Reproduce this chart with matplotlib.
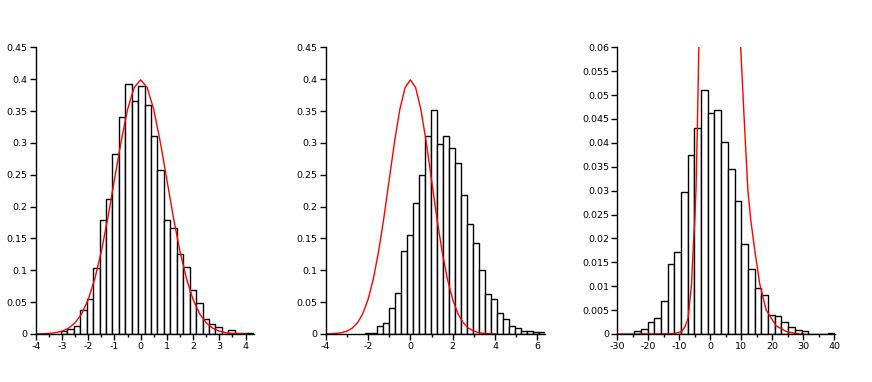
import numpy as np
import matplotlib
matplotlib.use('Agg')
import matplotlib.pyplot as plt
from matplotlib.ticker import MultipleLocator, FormatStrFormatter

# panel 1: histogram (30 bins)
h1_start, h1_width = -3.04, 0.2455
h1 = [0.005, 0.008, 0.013, 0.037, 0.055, 0.104, 0.179, 0.212, 0.282, 0.340,
      0.393, 0.366, 0.389, 0.360, 0.311, 0.257, 0.179, 0.167, 0.126, 0.105,
      0.069, 0.049, 0.024, 0.016, 0.011, 0.0, 0.006, 0.002, 0.002, 0.002]

# panel 2
h2_start, h2_width = -2.14, 0.283
h2 = [0.002, 0.0015, 0.012, 0.018, 0.040, 0.065, 0.130, 0.155, 0.206, 0.250,
      0.310, 0.352, 0.298, 0.311, 0.292, 0.269, 0.218, 0.173, 0.143, 0.100,
      0.063, 0.055, 0.033, 0.024, 0.012, 0.010, 0.005, 0.005, 0.003, 0.003]

# panel 3
h3_start, h3_width = -24.6, 2.16
h3 = [0.0006, 0.001, 0.0025, 0.0034, 0.0068, 0.0147, 0.0172, 0.0298, 0.0374, 0.0431,
      0.0511, 0.0462, 0.0468, 0.0401, 0.0346, 0.0279, 0.0188, 0.0135, 0.0096, 0.0082,
      0.0039, 0.0037, 0.0025, 0.0014, 0.0008, 0.0006, 0.0, 0.0, 0.0, 0.0003]

# red curve of panels 1 and 2
curve_x = [-4, -3.75, -3.5, -3.25, -3, -2.75, -2.5, -2.25, -2, -1.75, -1.5, -1.25,
           -1, -0.75, -0.5, -0.25, 0, 0.25, 0.5, 0.75, 1, 1.25, 1.5, 1.75, 2,
           2.25, 2.5, 2.75, 3, 3.25, 3.5, 3.75, 4]
curve_y = [0.0001, 0.0004, 0.0009, 0.002, 0.0044, 0.0091, 0.0175, 0.0317, 0.054,
           0.0863, 0.1295, 0.1826, 0.242, 0.3011, 0.3521, 0.3867, 0.3989, 0.3867,
           0.3521, 0.3011, 0.242, 0.1826, 0.1295, 0.0863, 0.054, 0.0317, 0.0175,
           0.0091, 0.0044, 0.002, 0.0009, 0.0004, 0.0001]

# red curve of panel 3 (two branches leaving the top of the plot)
c3_left_x = [-30, -15, -11.5, -9.3, -8.2, -7.2, -6.1, -5.6, -5.0, -4.6, -4.15, -3.73]
c3_left_y = [0.0, 0.0, 0.0001, 0.0005, 0.0015, 0.0033, 0.0103, 0.0172, 0.0242,
             0.031, 0.045, 0.06]
c3_right_x = [9.77, 10.9, 12.1, 13.0, 14.3, 15.9, 18.0, 21.2, 24.5, 28.8, 30]
c3_right_y = [0.06, 0.045, 0.030, 0.024, 0.0176, 0.0105, 0.005, 0.0017, 0.0005,
              0.0, 0.0]

fig = plt.figure(figsize=(8.72, 3.82), dpi=100)
ax1 = fig.add_axes([0.041, 0.1257, 0.2505, 0.7505])
ax2 = fig.add_axes([0.3735, 0.1257, 0.2512, 0.7505])
ax3 = fig.add_axes([0.708, 0.1257, 0.2496, 0.7505])


def draw_hist(ax, start, width, heights):
    edges = start + width * np.arange(len(heights))
    ax.bar(edges, heights, width=width, align='edge', color='white',
           edgecolor='black', linewidth=1.0, zorder=1)


def style(ax, xlim, ylim, xmaj, xmin, ymaj):
    ax.set_xlim(*xlim)
    ax.set_ylim(*ylim)
    for s in ['top', 'right']:
        ax.spines[s].set_visible(False)
    for s in ['left', 'bottom']:
        ax.spines[s].set_linewidth(1.0)
    ax.xaxis.set_major_locator(MultipleLocator(xmaj))
    ax.xaxis.set_minor_locator(MultipleLocator(xmin))
    ax.yaxis.set_major_locator(MultipleLocator(ymaj))
    ax.xaxis.set_major_formatter(FormatStrFormatter('%g'))
    ax.yaxis.set_major_formatter(FormatStrFormatter('%g'))
    ax.tick_params(which='major', direction='out', length=4, width=1,
                   labelsize=6.8, pad=2)
    ax.tick_params(which='minor', direction='out', length=2.5, width=1)


draw_hist(ax1, h1_start, h1_width, h1)
ax1.plot(curve_x, curve_y, color='red', lw=1, zorder=2)
style(ax1, (-4, 4.33), (0, 0.45), 1, 0.5, 0.05)

draw_hist(ax2, h2_start, h2_width, h2)
ax2.plot(curve_x, curve_y, color='red', lw=1, zorder=2)
style(ax2, (-4, 6.35), (0, 0.45), 2, 1, 0.05)

draw_hist(ax3, h3_start, h3_width, h3)
ax3.plot(c3_left_x, c3_left_y, color='red', lw=1, zorder=2)
ax3.plot(c3_right_x, c3_right_y, color='red', lw=1, zorder=2)
style(ax3, (-30, 40.2), (0, 0.06), 10, 5, 0.005)

fig.savefig('out.png', dpi=100)
